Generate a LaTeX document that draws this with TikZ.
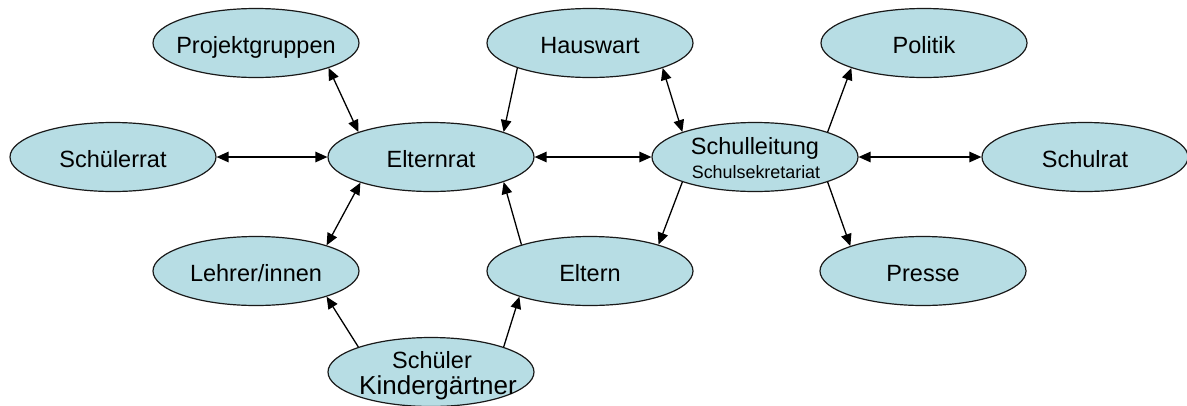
\documentclass[tikz,border=0pt]{standalone}
\usepackage{fontspec}
\setmainfont{Liberation Sans}
\usetikzlibrary{shapes.geometric,arrows.meta}
\definecolor{ellfill}{RGB}{183,221,228}
\definecolor{ellline}{RGB}{25,25,25}
\tikzset{
  ell/.style={ellipse, draw=ellline, line width=1.2pt, fill=ellfill,
    minimum width=206pt, minimum height=69pt, inner sep=0pt},
  txt/.style={anchor=base, inner sep=0pt, font=\fontsize{23.5}{26}\selectfont},
  smalltxt/.style={anchor=base, inner sep=0pt, font=\fontsize{17.9}{20}\selectfont},
  bigtxt/.style={anchor=base, inner sep=0pt, font=\fontsize{26}{28}\selectfont},
  tip/.tip={Triangle[length=12pt,width=10.5pt]},
  con/.style={line width=1.3pt, -tip},
  bi/.style={line width=1.3pt, tip-tip}
}
\begin{document}
\begin{tikzpicture}[x=1pt,y=-1pt]
\useasboundingbox (0,0) rectangle (1187,405);
% ellipses
\node[ell] (pg) at (256,43) {};
\node[ell] (hw) at (590,43) {};
\node[ell] (po) at (924,43) {};
\node[ell] (sr) at (113,157) {};
\node[ell] (er) at (431,157) {};
\node[ell] (sl) at (755,157) {};
\node[ell] (srat) at (1085,157) {};
\node[ell] (li) at (256,271) {};
\node[ell] (el) at (590,271) {};
\node[ell] (pr) at (923,271) {};
\node[ell] (sc) at (431,372) {};
% texts
\node[txt] (pgt) at (256,53) {Projektgruppen};
\node[txt] (hwt) at (590,53) {Hauswart};
\node[txt] (pot) at (924,53) {Politik};
\node[txt] (srt) at (113,167) {Schülerrat};
\node[txt] (ert) at (431,167) {Elternrat};
\node[txt] (slt) at (755,154) {Schulleitung};
\node[smalltxt] (slt2) at (756,178) {Schulsekretariat};
\node[txt] (sratt) at (1085,167) {Schulrat};
\node[txt] (lit) at (256,281) {Lehrer/innen};
\node[txt] (elt) at (590,281) {Eltern};
\node[txt] (prt) at (923,281) {Presse};
\node[txt] (sct) at (432,368) {Schüler};
\node[bigtxt] (sct2) at (438,394) {Kindergärtner};
% connectors
\draw[bi] (pg.-19) -- (er.161);
\draw[bi] (sr.east) -- (er.west);
\draw[con] (hw.199) -- (er.19);
\draw[bi] (hw.-19) -- (sl.161);
\draw[bi] (er.east) -- (sl.west);
\draw[con] (sl.19) -- (po.199);
\draw[bi] (sl.east) -- (srat.west);
\draw[con] (sl.-19) -- (pr.161);
\draw[bi] (er.200) -- (li.20);
\draw[con] (el.159) -- (er.-19);
\draw[con] (sl.199) -- (el.21);
\draw[con] (sc.161) -- (li.-20);
\draw[con] (sc.19) -- (el.200);
\end{tikzpicture}
\end{document}
